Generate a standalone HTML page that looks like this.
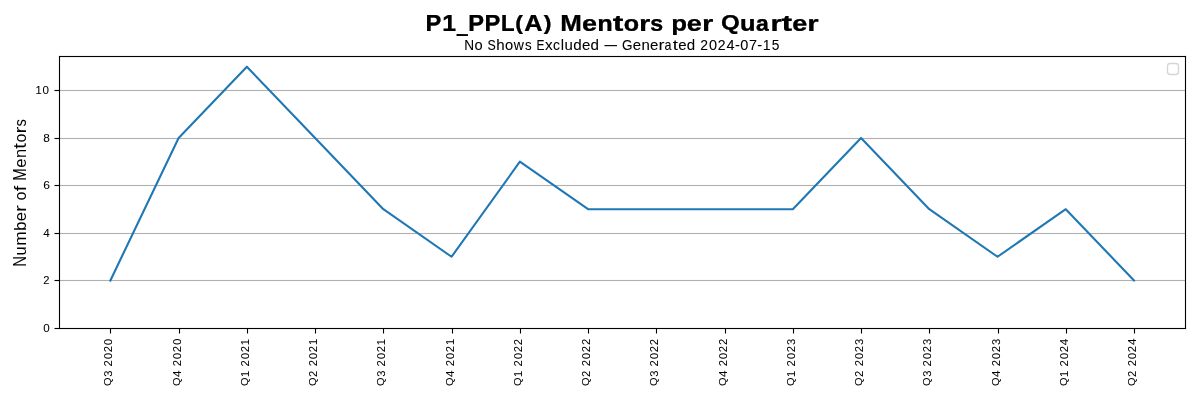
<!DOCTYPE html>
<html lang="en">
<head>
<meta charset="utf-8">
<title>P1_PPL(A) Mentors per Quarter</title>
<style>
html,body{margin:0;padding:0;background:#ffffff;}
body{width:1200px;height:400px;overflow:hidden;font-family:"Liberation Sans", sans-serif;}
svg{display:block;}
text{font-family:"Liberation Sans", sans-serif;fill:#000000;white-space:pre;}
.geo text{text-rendering:geometricPrecision;}
.txt{will-change:transform;}
.ln{stroke:#1f77b4;stroke-width:2.08;fill:none;stroke-linejoin:round;stroke-linecap:square;}
</style>
</head>
<body>
<svg width="1200" height="400" viewBox="0 0 1200 400">
<rect x="0" y="0" width="1200" height="400" fill="#ffffff"/>
<g fill="#b0b0b0">
<rect x="59.500" y="279.945" width="1126.000" height="1.110"/>
<rect x="59.500" y="232.945" width="1126.000" height="1.110"/>
<rect x="59.500" y="184.945" width="1126.000" height="1.110"/>
<rect x="59.500" y="137.945" width="1126.000" height="1.110"/>
<rect x="59.500" y="89.945" width="1126.000" height="1.110"/>
</g>
<polyline class="ln" points="110.38,280.49 178.62,137.96 246.87,66.69 315.11,137.96 383.35,209.22 451.59,256.73 519.84,161.71 588.08,209.22 656.32,209.22 724.56,209.22 792.81,209.22 861.05,137.96 929.29,209.22 997.53,256.73 1065.78,209.22 1134.02,280.49"/>
<g fill="#000000">
<rect x="54.500" y="327.945" width="5.000" height="1.110"/>
<rect x="54.500" y="279.945" width="5.000" height="1.110"/>
<rect x="54.500" y="232.945" width="5.000" height="1.110"/>
<rect x="54.500" y="184.945" width="5.000" height="1.110"/>
<rect x="54.500" y="137.945" width="5.000" height="1.110"/>
<rect x="54.500" y="89.945" width="5.000" height="1.110"/>
<rect x="109.945" y="328.500" width="1.110" height="5.000"/>
<rect x="178.945" y="328.500" width="1.110" height="5.000"/>
<rect x="246.945" y="328.500" width="1.110" height="5.000"/>
<rect x="314.945" y="328.500" width="1.110" height="5.000"/>
<rect x="382.945" y="328.500" width="1.110" height="5.000"/>
<rect x="451.945" y="328.500" width="1.110" height="5.000"/>
<rect x="519.945" y="328.500" width="1.110" height="5.000"/>
<rect x="587.945" y="328.500" width="1.110" height="5.000"/>
<rect x="655.945" y="328.500" width="1.110" height="5.000"/>
<rect x="724.945" y="328.500" width="1.110" height="5.000"/>
<rect x="792.945" y="328.500" width="1.110" height="5.000"/>
<rect x="860.945" y="328.500" width="1.110" height="5.000"/>
<rect x="928.945" y="328.500" width="1.110" height="5.000"/>
<rect x="997.945" y="328.500" width="1.110" height="5.000"/>
<rect x="1065.945" y="328.500" width="1.110" height="5.000"/>
<rect x="1133.945" y="328.500" width="1.110" height="5.000"/>
<rect x="58.945" y="55.945" width="1.110" height="273.110"/>
<rect x="1184.945" y="55.945" width="1.110" height="273.110"/>
<rect x="58.945" y="55.945" width="1127.110" height="1.110"/>
<rect x="58.945" y="327.945" width="1127.110" height="1.110"/>
</g>
<rect x="1167.5" y="63.5" width="11" height="11" rx="2.8" ry="2.8" fill="#ffffff" fill-opacity="0.8" stroke="#cccccc" stroke-opacity="0.8" stroke-width="1.39"/>
<defs>
<filter id="f_title" x="-5%" y="-5%" width="110%" height="110%" color-interpolation-filters="sRGB"><feComponentTransfer><feFuncA type="gamma" amplitude="1" exponent="0.450" offset="0"/></feComponentTransfer></filter>
<filter id="f_sub" x="-5%" y="-5%" width="110%" height="110%" color-interpolation-filters="sRGB"><feComponentTransfer><feFuncA type="gamma" amplitude="1" exponent="0.870" offset="0"/></feComponentTransfer></filter>
<filter id="f_ylab" x="-5%" y="-5%" width="110%" height="110%" color-interpolation-filters="sRGB"><feComponentTransfer><feFuncA type="gamma" amplitude="1" exponent="0.970" offset="0"/></feComponentTransfer></filter>
<filter id="f_ytick" x="-5%" y="-5%" width="110%" height="110%" color-interpolation-filters="sRGB"><feComponentTransfer><feFuncA type="gamma" amplitude="1" exponent="0.880" offset="0"/></feComponentTransfer></filter>
<filter id="f_xtick" x="-5%" y="-5%" width="110%" height="110%" color-interpolation-filters="sRGB"><feComponentTransfer><feFuncA type="gamma" amplitude="1" exponent="0.920" offset="0"/></feComponentTransfer></filter>
</defs>
<g class="txt geo" filter="url(#f_title)">
<g transform="translate(425.00,31.00)" font-size="22.89" font-weight="bold"><text transform="matrix(1.0325 0.001 0 1.0160 0.42 -0.00)">P</text><text transform="matrix(1.0797 0.001 0 1.0160 17.19 -0.00)">1</text><text transform="matrix(0.8457 0.001 0 2.2762 31.94 -1.36)">_</text><text transform="matrix(1.0325 0.001 0 1.0160 43.29 -0.00)">P</text><text transform="matrix(1.0325 0.001 0 1.0160 59.54 -0.00)">P</text><text transform="matrix(0.9790 0.001 0 1.0160 75.88 -0.00)">L</text><text transform="matrix(1.0110 0.001 0 0.8905 90.22 -1.23)">(</text><text transform="matrix(1.1070 0.001 0 1.0160 99.23 -0.00)">A</text><text transform="matrix(1.0110 0.001 0 0.8905 118.70 -1.23)">)</text><text transform="matrix(1.0000 0.001 0 1.0000 127.12 0.00)"> </text><text transform="matrix(1.1325 0.001 0 1.0160 135.14 -0.00)">M</text><text transform="matrix(1.1803 0.001 0 0.9569 156.94 -0.21)">e</text><text transform="matrix(1.1082 0.001 0 0.9734 172.33 -0.00)">n</text><text transform="matrix(1.3980 0.001 0 0.9912 187.86 -0.20)">t</text><text transform="matrix(1.0969 0.001 0 0.9569 198.64 -0.21)">o</text><text transform="matrix(1.2761 0.001 0 0.9734 213.95 -0.00)">r</text><text transform="matrix(1.0126 0.001 0 0.9561 225.31 -0.21)">s</text><text transform="matrix(1.0000 0.001 0 1.0000 238.25 0.00)"> </text><text transform="matrix(1.1311 0.001 0 0.9356 246.17 -0.44)">p</text><text transform="matrix(1.1803 0.001 0 0.9569 261.82 -0.21)">e</text><text transform="matrix(1.2761 0.001 0 0.9734 276.95 -0.00)">r</text><text transform="matrix(1.0000 0.001 0 1.0000 288.00 0.00)"> </text><text transform="matrix(1.0532 0.001 0 0.9274 295.89 -1.18)">Q</text><text transform="matrix(1.1082 0.001 0 0.9743 314.93 -0.22)">u</text><text transform="matrix(1.0037 0.001 0 0.9569 330.95 -0.21)">a</text><text transform="matrix(1.2761 0.001 0 0.9734 345.57 -0.00)">r</text><text transform="matrix(1.3980 0.001 0 0.9912 356.48 -0.20)">t</text><text transform="matrix(1.1803 0.001 0 0.9569 367.19 -0.21)">e</text><text transform="matrix(1.2761 0.001 0 0.9734 382.32 -0.00)">r</text></g>
</g>
<g class="txt" filter="url(#f_sub)">
<g transform="translate(464.00,50.25)" font-size="14.31"><text transform="matrix(0.9539 0 0 1.0157 0.26 -0.00)">N</text><text transform="matrix(1.0268 0 0 1.0204 10.51 -0.14)">o</text><text transform="matrix(1.0000 0 0 1.0000 18.88 0.00)"> </text><text transform="matrix(0.8649 0 0 0.9870 23.56 -0.14)">S</text><text transform="matrix(1.0560 0 0 1.0608 32.20 -0.00)">h</text><text transform="matrix(1.0268 0 0 1.0204 40.88 -0.14)">o</text><text transform="matrix(0.9805 0 0 1.0582 49.85 -0.00)">w</text><text transform="matrix(0.9290 0 0 1.0232 60.96 -0.14)">s</text><text transform="matrix(1.0000 0 0 1.0000 67.75 0.00)"> </text><text transform="matrix(0.8340 0 0 1.0157 72.52 -0.00)">E</text><text transform="matrix(1.0758 0 0 1.0582 81.11 -0.00)">x</text><text transform="matrix(0.9725 0 0 1.0204 89.03 -0.14)">c</text><text transform="matrix(1.0436 0 0 1.0608 96.74 -0.00)">l</text><text transform="matrix(1.0487 0 0 1.0390 100.53 -0.15)">u</text><text transform="matrix(1.0586 0 0 1.0467 109.24 -0.15)">d</text><text transform="matrix(1.0518 0 0 1.0204 118.11 -0.14)">e</text><text transform="matrix(1.0586 0 0 1.0467 126.61 -0.15)">d</text><text transform="matrix(1.0000 0 0 1.0000 135.38 0.00)"> </text><text transform="matrix(0.8735 0 0 1.1426 140.38 -0.26)">—</text><text transform="matrix(1.0000 0 0 1.0000 153.50 0.00)"> </text><text transform="matrix(0.9433 0 0 0.9870 157.95 -0.14)">G</text><text transform="matrix(1.0518 0 0 1.0204 168.74 -0.14)">e</text><text transform="matrix(1.0487 0 0 1.0390 177.38 -0.00)">n</text><text transform="matrix(1.0518 0 0 1.0204 185.99 -0.14)">e</text><text transform="matrix(1.2579 0 0 1.0532 194.43 -0.00)">r</text><text transform="matrix(0.8758 0 0 1.0204 200.47 -0.14)">a</text><text transform="matrix(1.2998 0 0 1.0680 208.84 -0.12)">t</text><text transform="matrix(1.0518 0 0 1.0204 214.36 -0.14)">e</text><text transform="matrix(1.0586 0 0 1.0467 222.86 -0.15)">d</text><text transform="matrix(1.0000 0 0 1.0000 231.62 0.00)"> </text><text transform="matrix(0.9779 0 0 1.0008 236.30 -0.00)">2</text><text transform="matrix(1.0142 0 0 0.9870 245.06 -0.14)">0</text><text transform="matrix(0.9779 0 0 1.0008 253.80 -0.00)">2</text><text transform="matrix(1.0163 0 0 1.0157 262.60 -0.00)">4</text><text transform="matrix(1.0376 0 0 0.9783 270.97 -0.69)">-</text><text transform="matrix(1.0142 0 0 0.9870 276.18 -0.14)">0</text><text transform="matrix(0.9992 0 0 1.0157 285.02 -0.00)">7</text><text transform="matrix(1.0376 0 0 0.9783 293.34 -0.69)">-</text><text transform="matrix(0.9826 0 0 1.0157 298.74 -0.00)">1</text><text transform="matrix(0.9580 0 0 1.0015 307.64 -0.14)">5</text></g>
</g>
<g class="txt" filter="url(#f_ylab)">
<g transform="translate(26.00,267.00) rotate(-90)" font-size="15.74"><text transform="matrix(0.9525 0 0 1.1081 0.27 -0.00)">N</text><text transform="matrix(1.0469 0 0 1.0626 11.55 -0.16)">u</text><text transform="matrix(1.1065 0 0 1.0626 21.22 -0.00)">m</text><text transform="matrix(1.0596 0 0 1.0381 36.18 -0.16)">b</text><text transform="matrix(1.0493 0 0 1.0437 45.80 -0.16)">e</text><text transform="matrix(1.2587 0 0 1.0792 55.18 -0.00)">r</text><text transform="matrix(1.0000 0 0 1.0000 61.50 0.00)"> </text><text transform="matrix(1.0260 0 0 1.0437 66.57 -0.16)">o</text><text transform="matrix(1.2730 0 0 1.0536 75.84 -0.00)">f</text><text transform="matrix(1.0000 0 0 1.0000 81.12 0.00)"> </text><text transform="matrix(0.9616 0 0 1.1081 86.26 -0.00)">M</text><text transform="matrix(1.0493 0 0 1.0437 99.30 -0.16)">e</text><text transform="matrix(1.0469 0 0 1.0626 108.91 -0.00)">n</text><text transform="matrix(1.3061 0 0 1.1167 118.31 -0.14)">t</text><text transform="matrix(1.0260 0 0 1.0437 124.45 -0.16)">o</text><text transform="matrix(1.2587 0 0 1.0792 133.68 -0.00)">r</text><text transform="matrix(0.9311 0 0 1.0465 140.40 -0.16)">s</text></g>
</g>
<g class="txt" filter="url(#f_ytick)">
<g transform="translate(43.00,332.00)" font-size="11.44"><text transform="matrix(1.0172 0 0 0.9877 0.30 -0.11)">0</text></g>
<g transform="translate(43.00,284.00)" font-size="11.44"><text transform="matrix(0.9774 0 0 1.0015 0.31 -0.00)">2</text></g>
<g transform="translate(43.00,237.00)" font-size="11.44"><text transform="matrix(1.0246 0 0 1.0164 0.29 -0.00)">4</text></g>
<g transform="translate(43.00,189.00)" font-size="11.44"><text transform="matrix(1.0538 0 0 0.9877 0.14 -0.11)">6</text></g>
<g transform="translate(43.00,142.00)" font-size="11.44"><text transform="matrix(1.0362 0 0 0.9877 0.23 -0.11)">8</text></g>
<g transform="translate(35.25,94.00)" font-size="11.44"><text transform="matrix(0.9725 0 0 1.0164 0.32 -0.00)">1</text><text transform="matrix(1.0172 0 0 0.9877 7.30 -0.11)">0</text></g>
</g>
<g class="txt geo" filter="url(#f_xtick)">
<g transform="translate(112.00,386.00) rotate(-90)" font-size="11.44"><text transform="matrix(0.9604 0.001 0 0.8867 0.10 -0.92)">Q</text><text transform="matrix(0.9795 0.001 0 0.9877 9.14 -0.11)">3</text><text transform="matrix(1.0000 0.001 0 1.0000 15.75 0.00)"> </text><text transform="matrix(0.9774 0.001 0 1.0015 19.56 -0.00)">2</text><text transform="matrix(1.0172 0.001 0 0.9877 26.67 -0.11)">0</text><text transform="matrix(0.9774 0.001 0 1.0015 33.69 -0.00)">2</text><text transform="matrix(1.0172 0.001 0 0.9877 40.80 -0.11)">0</text></g>
<g transform="translate(181.00,386.00) rotate(-90)" font-size="11.44"><text transform="matrix(0.9604 0.001 0 0.8867 0.10 -0.92)">Q</text><text transform="matrix(1.0246 0.001 0 1.0164 9.04 -0.00)">4</text><text transform="matrix(1.0000 0.001 0 1.0000 15.88 0.00)"> </text><text transform="matrix(0.9774 0.001 0 1.0015 19.69 -0.00)">2</text><text transform="matrix(1.0172 0.001 0 0.9877 26.80 -0.11)">0</text><text transform="matrix(0.9774 0.001 0 1.0015 33.81 -0.00)">2</text><text transform="matrix(1.0172 0.001 0 0.9877 40.92 -0.11)">0</text></g>
<g transform="translate(249.00,386.00) rotate(-90)" font-size="11.44"><text transform="matrix(0.9604 0.001 0 0.8867 0.10 -0.92)">Q</text><text transform="matrix(0.9725 0.001 0 1.0164 9.07 -0.00)">1</text><text transform="matrix(1.0000 0.001 0 1.0000 15.75 0.00)"> </text><text transform="matrix(0.9774 0.001 0 1.0015 19.56 -0.00)">2</text><text transform="matrix(1.0172 0.001 0 0.9877 26.67 -0.11)">0</text><text transform="matrix(0.9774 0.001 0 1.0015 33.69 -0.00)">2</text><text transform="matrix(0.9725 0.001 0 1.0164 40.82 -0.00)">1</text></g>
<g transform="translate(317.00,386.00) rotate(-90)" font-size="11.44"><text transform="matrix(0.9604 0.001 0 0.8867 0.10 -0.92)">Q</text><text transform="matrix(0.9774 0.001 0 1.0015 9.06 -0.00)">2</text><text transform="matrix(1.0000 0.001 0 1.0000 15.88 0.00)"> </text><text transform="matrix(0.9774 0.001 0 1.0015 19.69 -0.00)">2</text><text transform="matrix(1.0172 0.001 0 0.9877 26.80 -0.11)">0</text><text transform="matrix(0.9774 0.001 0 1.0015 33.81 -0.00)">2</text><text transform="matrix(0.9725 0.001 0 1.0164 40.95 -0.00)">1</text></g>
<g transform="translate(385.00,386.00) rotate(-90)" font-size="11.44"><text transform="matrix(0.9604 0.001 0 0.8867 0.10 -0.92)">Q</text><text transform="matrix(0.9795 0.001 0 0.9877 9.14 -0.11)">3</text><text transform="matrix(1.0000 0.001 0 1.0000 15.75 0.00)"> </text><text transform="matrix(0.9774 0.001 0 1.0015 19.56 -0.00)">2</text><text transform="matrix(1.0172 0.001 0 0.9877 26.67 -0.11)">0</text><text transform="matrix(0.9774 0.001 0 1.0015 33.69 -0.00)">2</text><text transform="matrix(0.9725 0.001 0 1.0164 40.82 -0.00)">1</text></g>
<g transform="translate(454.00,386.00) rotate(-90)" font-size="11.44"><text transform="matrix(0.9604 0.001 0 0.8867 0.10 -0.92)">Q</text><text transform="matrix(1.0246 0.001 0 1.0164 9.04 -0.00)">4</text><text transform="matrix(1.0000 0.001 0 1.0000 15.88 0.00)"> </text><text transform="matrix(0.9774 0.001 0 1.0015 19.69 -0.00)">2</text><text transform="matrix(1.0172 0.001 0 0.9877 26.80 -0.11)">0</text><text transform="matrix(0.9774 0.001 0 1.0015 33.81 -0.00)">2</text><text transform="matrix(0.9725 0.001 0 1.0164 40.95 -0.00)">1</text></g>
<g transform="translate(522.00,386.00) rotate(-90)" font-size="11.44"><text transform="matrix(0.9604 0.001 0 0.8867 0.10 -0.92)">Q</text><text transform="matrix(0.9725 0.001 0 1.0164 9.07 -0.00)">1</text><text transform="matrix(1.0000 0.001 0 1.0000 15.75 0.00)"> </text><text transform="matrix(0.9774 0.001 0 1.0015 19.56 -0.00)">2</text><text transform="matrix(1.0172 0.001 0 0.9877 26.67 -0.11)">0</text><text transform="matrix(0.9774 0.001 0 1.0015 33.69 -0.00)">2</text><text transform="matrix(0.9774 0.001 0 1.0015 40.81 -0.00)">2</text></g>
<g transform="translate(590.00,386.00) rotate(-90)" font-size="11.44"><text transform="matrix(0.9604 0.001 0 0.8867 0.10 -0.92)">Q</text><text transform="matrix(0.9774 0.001 0 1.0015 9.06 -0.00)">2</text><text transform="matrix(1.0000 0.001 0 1.0000 15.88 0.00)"> </text><text transform="matrix(0.9774 0.001 0 1.0015 19.69 -0.00)">2</text><text transform="matrix(1.0172 0.001 0 0.9877 26.80 -0.11)">0</text><text transform="matrix(0.9774 0.001 0 1.0015 33.81 -0.00)">2</text><text transform="matrix(0.9774 0.001 0 1.0015 40.94 -0.00)">2</text></g>
<g transform="translate(658.00,386.00) rotate(-90)" font-size="11.44"><text transform="matrix(0.9604 0.001 0 0.8867 0.10 -0.92)">Q</text><text transform="matrix(0.9795 0.001 0 0.9877 9.14 -0.11)">3</text><text transform="matrix(1.0000 0.001 0 1.0000 15.75 0.00)"> </text><text transform="matrix(0.9774 0.001 0 1.0015 19.56 -0.00)">2</text><text transform="matrix(1.0172 0.001 0 0.9877 26.67 -0.11)">0</text><text transform="matrix(0.9774 0.001 0 1.0015 33.69 -0.00)">2</text><text transform="matrix(0.9774 0.001 0 1.0015 40.81 -0.00)">2</text></g>
<g transform="translate(727.00,386.00) rotate(-90)" font-size="11.44"><text transform="matrix(0.9604 0.001 0 0.8867 0.10 -0.92)">Q</text><text transform="matrix(1.0246 0.001 0 1.0164 9.04 -0.00)">4</text><text transform="matrix(1.0000 0.001 0 1.0000 15.88 0.00)"> </text><text transform="matrix(0.9774 0.001 0 1.0015 19.69 -0.00)">2</text><text transform="matrix(1.0172 0.001 0 0.9877 26.80 -0.11)">0</text><text transform="matrix(0.9774 0.001 0 1.0015 33.81 -0.00)">2</text><text transform="matrix(0.9774 0.001 0 1.0015 40.94 -0.00)">2</text></g>
<g transform="translate(795.00,386.00) rotate(-90)" font-size="11.44"><text transform="matrix(0.9604 0.001 0 0.8867 0.10 -0.92)">Q</text><text transform="matrix(0.9725 0.001 0 1.0164 9.07 -0.00)">1</text><text transform="matrix(1.0000 0.001 0 1.0000 15.75 0.00)"> </text><text transform="matrix(0.9774 0.001 0 1.0015 19.56 -0.00)">2</text><text transform="matrix(1.0172 0.001 0 0.9877 26.67 -0.11)">0</text><text transform="matrix(0.9774 0.001 0 1.0015 33.69 -0.00)">2</text><text transform="matrix(0.9795 0.001 0 0.9877 40.89 -0.11)">3</text></g>
<g transform="translate(863.00,386.00) rotate(-90)" font-size="11.44"><text transform="matrix(0.9604 0.001 0 0.8867 0.10 -0.92)">Q</text><text transform="matrix(0.9774 0.001 0 1.0015 9.06 -0.00)">2</text><text transform="matrix(1.0000 0.001 0 1.0000 15.88 0.00)"> </text><text transform="matrix(0.9774 0.001 0 1.0015 19.69 -0.00)">2</text><text transform="matrix(1.0172 0.001 0 0.9877 26.80 -0.11)">0</text><text transform="matrix(0.9774 0.001 0 1.0015 33.81 -0.00)">2</text><text transform="matrix(0.9795 0.001 0 0.9877 41.01 -0.11)">3</text></g>
<g transform="translate(931.00,386.00) rotate(-90)" font-size="11.44"><text transform="matrix(0.9604 0.001 0 0.8867 0.10 -0.92)">Q</text><text transform="matrix(0.9795 0.001 0 0.9877 9.14 -0.11)">3</text><text transform="matrix(1.0000 0.001 0 1.0000 15.75 0.00)"> </text><text transform="matrix(0.9774 0.001 0 1.0015 19.56 -0.00)">2</text><text transform="matrix(1.0172 0.001 0 0.9877 26.67 -0.11)">0</text><text transform="matrix(0.9774 0.001 0 1.0015 33.69 -0.00)">2</text><text transform="matrix(0.9795 0.001 0 0.9877 40.89 -0.11)">3</text></g>
<g transform="translate(1000.00,386.00) rotate(-90)" font-size="11.44"><text transform="matrix(0.9604 0.001 0 0.8867 0.10 -0.92)">Q</text><text transform="matrix(1.0246 0.001 0 1.0164 9.04 -0.00)">4</text><text transform="matrix(1.0000 0.001 0 1.0000 15.88 0.00)"> </text><text transform="matrix(0.9774 0.001 0 1.0015 19.69 -0.00)">2</text><text transform="matrix(1.0172 0.001 0 0.9877 26.80 -0.11)">0</text><text transform="matrix(0.9774 0.001 0 1.0015 33.81 -0.00)">2</text><text transform="matrix(0.9795 0.001 0 0.9877 41.01 -0.11)">3</text></g>
<g transform="translate(1068.00,386.00) rotate(-90)" font-size="11.44"><text transform="matrix(0.9604 0.001 0 0.8867 0.10 -0.92)">Q</text><text transform="matrix(0.9725 0.001 0 1.0164 9.07 -0.00)">1</text><text transform="matrix(1.0000 0.001 0 1.0000 15.75 0.00)"> </text><text transform="matrix(0.9774 0.001 0 1.0015 19.56 -0.00)">2</text><text transform="matrix(1.0172 0.001 0 0.9877 26.67 -0.11)">0</text><text transform="matrix(0.9774 0.001 0 1.0015 33.69 -0.00)">2</text><text transform="matrix(1.0246 0.001 0 1.0164 40.79 -0.00)">4</text></g>
<g transform="translate(1136.00,386.00) rotate(-90)" font-size="11.44"><text transform="matrix(0.9604 0.001 0 0.8867 0.10 -0.92)">Q</text><text transform="matrix(0.9774 0.001 0 1.0015 9.06 -0.00)">2</text><text transform="matrix(1.0000 0.001 0 1.0000 15.88 0.00)"> </text><text transform="matrix(0.9774 0.001 0 1.0015 19.69 -0.00)">2</text><text transform="matrix(1.0172 0.001 0 0.9877 26.80 -0.11)">0</text><text transform="matrix(0.9774 0.001 0 1.0015 33.81 -0.00)">2</text><text transform="matrix(1.0246 0.001 0 1.0164 40.92 -0.00)">4</text></g>
</g>
</svg>
</body>
</html>
